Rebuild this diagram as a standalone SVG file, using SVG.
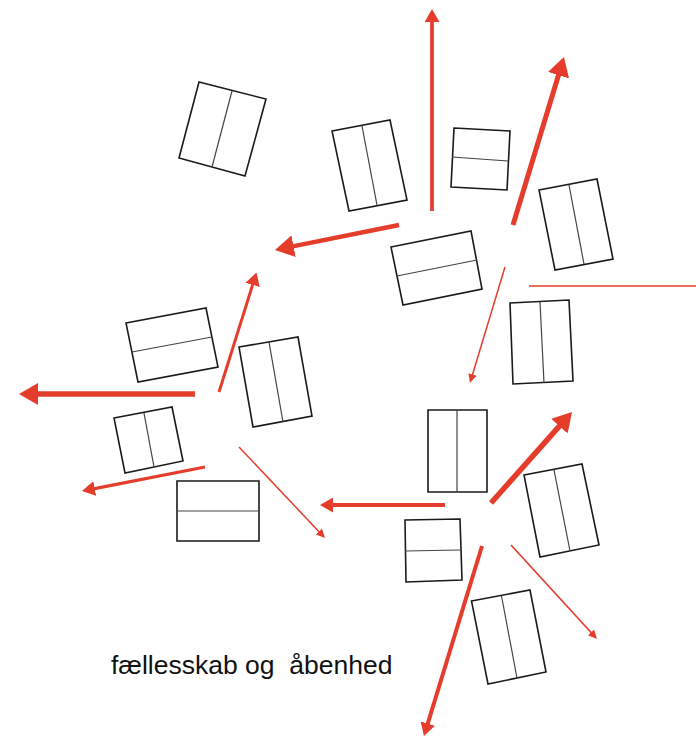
<svg xmlns="http://www.w3.org/2000/svg" width="696" height="737" viewBox="0 0 696 737">
<style>
.box{fill:#fff;stroke:#1a1a1a;stroke-width:1.6;stroke-linejoin:miter}
.div{stroke:#444;stroke-width:1.2}
.arr{stroke:#e53d2b;fill:none;stroke-linecap:butt}
.lbl{font-family:"Liberation Sans",Arial,sans-serif;font-size:26.5px;fill:#111;white-space:pre}
</style>
<defs>
<marker id="mBig" markerUnits="userSpaceOnUse" markerWidth="19" markerHeight="22" viewBox="0 0 19 22" refX="6" refY="11" orient="auto"><path d="M0,0 L19,11 L0,22 z" fill="#e53d2b"/></marker>
<marker id="mMid" markerUnits="userSpaceOnUse" markerWidth="13" markerHeight="15" viewBox="0 0 13 15" refX="4" refY="7.5" orient="auto"><path d="M0,0 L13,7.5 L0,15 z" fill="#e53d2b"/></marker>
<marker id="mSmall" markerUnits="userSpaceOnUse" markerWidth="9" markerHeight="8.5" viewBox="0 0 9 8.5" refX="4" refY="4.25" orient="auto"><path d="M0,0 L9,4.25 L0,8.5 z" fill="#e53d2b"/></marker>
</defs>
<rect width="696" height="737" fill="#fff"/>
<g id="nodes">
<g id="boxA"><polygon class="box" points="199,82 266,99 245,176 179,158"/><line class="div" x1="232" y1="91" x2="212" y2="167"/></g>
<g id="boxB"><polygon class="box" points="332,131 390,120 407,200 349,211"/><line class="div" x1="362" y1="126" x2="377" y2="205"/></g>
<g id="boxC"><polygon class="box" points="454,128 510,131 507,190 451,187"/><line class="div" x1="452" y1="157" x2="508" y2="161"/></g>
<g id="boxD"><polygon class="box" points="391,247 471,231 482,289 403,305"/><line class="div" x1="397" y1="276" x2="477" y2="260"/></g>
<g id="boxE"><polygon class="box" points="126,323 206,308 218,367 138,382"/><line class="div" x1="132" y1="352" x2="212" y2="337"/></g>
<g id="boxF"><polygon class="box" points="239,347 298,337 312,416 253,427"/><line class="div" x1="269" y1="342" x2="283" y2="422"/></g>
<g id="boxG"><polygon class="box" points="114,418 172,407 183,461 125,473"/><line class="div" x1="144" y1="413" x2="154" y2="467"/></g>
<g id="boxH"><polygon class="box" points="177,481 259,481 259,541 177,541"/><line class="div" x1="177" y1="511" x2="259" y2="511"/></g>
<g id="boxI"><polygon class="box" points="539,190 597,179 613,259 555,270"/><line class="div" x1="569" y1="185" x2="584" y2="264"/></g>
<g id="boxJ"><polygon class="box" points="510,303 569,300 573,381 513,384"/><line class="div" x1="540" y1="302" x2="544" y2="383"/></g>
<g id="boxK"><polygon class="box" points="428,410 487,410 487,492 428,492"/><line class="div" x1="457" y1="410" x2="457" y2="492"/></g>
<g id="boxL"><polygon class="box" points="524,475 582,464 599,545 540,557"/><line class="div" x1="554" y1="470" x2="570" y2="551"/></g>
<g id="boxM"><polygon class="box" points="405,520 460,519 462,580 406,582"/><line class="div" x1="405" y1="551" x2="461" y2="550"/></g>
<g id="boxN"><polygon class="box" points="471.5,601 530,590 546,672 488,684"/><line class="div" x1="501.5" y1="596" x2="517" y2="678"/></g>
</g>
<g id="connectors">
<line class="arr" x1="432" y1="211" x2="432" y2="18" stroke-width="3.7" marker-end="url(#mMid)"/>
<line class="arr" x1="399" y1="225" x2="287.7" y2="247.4" stroke-width="4.5" marker-end="url(#mBig)"/>
<line class="arr" x1="513" y1="225" x2="560.2" y2="69.4" stroke-width="5" marker-end="url(#mBig)"/>
<line class="arr" x1="219" y1="392" x2="253.8" y2="281.1" stroke-width="3" marker-end="url(#mMid)"/>
<line class="arr" x1="195" y1="394" x2="32" y2="394" stroke-width="5.5" marker-end="url(#mBig)"/>
<line class="arr" x1="205" y1="467" x2="90.8" y2="489.3" stroke-width="3.3" marker-end="url(#mMid)"/>
<line class="arr" x1="239" y1="447" x2="321.6" y2="534.4" stroke-width="1.5" marker-end="url(#mSmall)"/>
<line class="arr" x1="445" y1="505" x2="329" y2="505" stroke-width="4" marker-end="url(#mMid)"/>
<line class="arr" x1="491" y1="503" x2="563.4" y2="421.7" stroke-width="5.5" marker-end="url(#mBig)"/>
<line class="arr" x1="505" y1="267" x2="471.4" y2="378.2" stroke-width="1.5" marker-end="url(#mSmall)"/>
<line class="arr" x1="529" y1="286" x2="696" y2="286" stroke-width="1.5"/>
<line class="arr" x1="482" y1="546" x2="426.6" y2="727.4" stroke-width="4" marker-end="url(#mMid)"/>
<line class="arr" x1="511" y1="545" x2="593.6" y2="635.3" stroke-width="1.7" marker-end="url(#mSmall)"/>
</g>
<text class="lbl" x="111" y="674" xml:space="preserve">fællesskab og  åbenhed</text>
</svg>
